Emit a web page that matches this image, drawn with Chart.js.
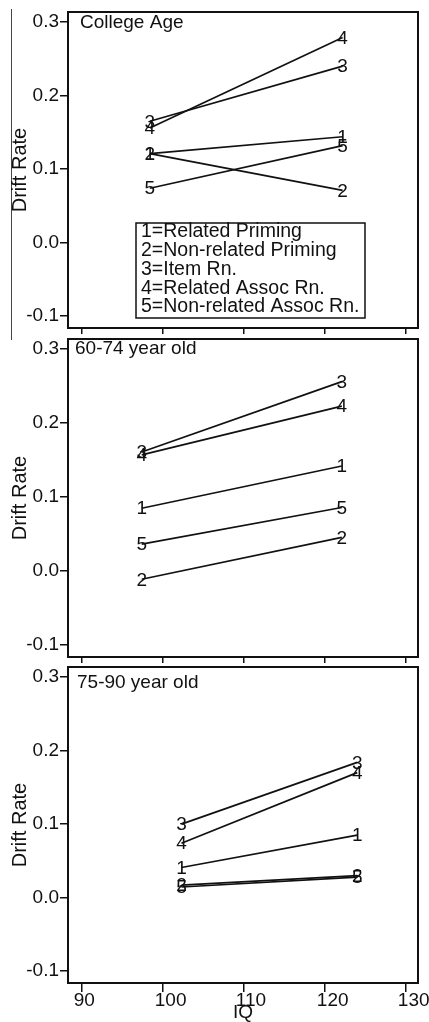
<!DOCTYPE html>
<html>
<head>
<meta charset="utf-8">
<script src="https://cdn.jsdelivr.net/npm/chart.js@4"></script>
<style>
  body { margin: 0; background: #fff; }
  .panel { position: absolute; left: 0; width: 429px; }
  #edge { position: absolute; left: 11px; top: 9px; width: 1px; height: 331px; background: #444; }
</style>
</head>
<body>
<div id="edge"></div>
<div class="panel" style="top:0"><canvas id="p1" width="429" height="336"></canvas></div>
<div class="panel" style="top:336px"><canvas id="p2" width="429" height="328"></canvas></div>
<div class="panel" style="top:664px"><canvas id="p3" width="429" height="358"></canvas></div>
<script>
// legend text for the numbered lines
const seriesNames = ['Related Priming', 'Non-related Priming', 'Item Rn.', 'Related Assoc Rn.', 'Non-related Assoc Rn.'];
const xTicks = [90, 100, 110, 120, 130];
const yTicks = [-0.1, 0.0, 0.1, 0.2, 0.3];
const xRange = [88.3, 131.5];
const yRange = [-0.116, 0.3136];

// IQ at the two points of each panel
const iqCollege = [98.4, 122.2];
const iq6074 = [97.4, 122.1];
const iq7590 = [102.3, 124.0];

// drift rates, one pair per series (1..5)
const college = [[0.121, 0.144], [0.121, 0.071], [0.165, 0.240], [0.156, 0.279], [0.074, 0.132]];
const old6074 = [[0.085, 0.142], [-0.011, 0.0455], [0.161, 0.256], [0.157, 0.223], [0.0365, 0.086]];
const old7590 = [[0.041, 0.085], [0.017, 0.030], [0.100, 0.184], [0.074, 0.170], [0.0145, 0.028]];

const FONT = '"Liberation Sans", Arial, Helvetica, sans-serif';
const INK = '#111';

const panelDecor = {
  id: 'panelDecor',
  afterDatasetsDraw(chart, args, opts) {
    const ctx = chart.ctx;
    const a = chart.chartArea;
    ctx.save();
    // numbers at each point
    ctx.font = '19px ' + FONT;
    ctx.fillStyle = INK;
    ctx.textAlign = 'center';
    ctx.textBaseline = 'middle';
    chart.data.datasets.forEach((ds, i) => {
      chart.getDatasetMeta(i).data.forEach(pt => ctx.fillText(String(i + 1), pt.x, pt.y + 1));
    });
    // frame
    ctx.strokeStyle = INK;
    ctx.lineWidth = 2;
    ctx.strokeRect(a.left, a.top, a.right - a.left, a.bottom - a.top);
    // panel title
    ctx.textAlign = 'left';
    ctx.fillText(opts.title, opts.titleX, a.top + opts.titleDy);
    // legend box
    if (opts.legend) {
      ctx.font = '19.5px ' + FONT;
      ctx.lineWidth = 1.5;
      ctx.strokeRect(136, 223, 229, 95);
      seriesNames.forEach((n, i) => ctx.fillText((i + 1) + '=' + n, 141, 232 + i * 18.75));
    }
    ctx.restore();
  }
};

function makePanel(id, iq, vals, title, titleX, titleDy, padTop, xHeight, showX, legend) {
  const datasets = vals.map((v, i) => ({
    label: String(i + 1),
    data: iq.map((x, j) => ({ x: x, y: v[j] })),
    borderColor: INK,
    borderWidth: 1.7,
    pointRadius: 0,
    fill: false,
    tension: 0
  }));
  new Chart(document.getElementById(id), {
    type: 'line',
    data: { datasets },
    options: {
      responsive: false,
      animation: false,
      layout: { padding: { left: 8, right: 11, top: padTop, bottom: 0 } },
      plugins: {
        legend: { display: false },
        tooltip: { enabled: false },
        panelDecor: { title, titleX, titleDy, legend }
      },
      scales: {
        x: {
          type: 'linear',
          min: xRange[0],
          max: xRange[1],
          afterBuildTicks: s => { s.ticks = xTicks.map(v => ({ value: v })); },
          afterFit: s => { s.height = xHeight; s.paddingLeft = 0; s.paddingRight = 0; },
          border: { display: false },
          grid: { drawOnChartArea: false, drawTicks: true, tickLength: showX ? 9 : 6, color: INK, lineWidth: 1.5 },
          ticks: {
            display: showX,
            autoSkip: false,
            maxRotation: 0,
            align: 'start',
            labelOffset: -8,
            padding: -3,
            color: INK,
            font: { family: FONT, size: 19 }
          },
          title: {
            display: showX,
            text: 'IQ',
            color: INK,
            padding: { top: 0, bottom: 0 },
            font: { family: FONT, size: 19, lineHeight: 1 }
          }
        },
        y: {
          min: yRange[0],
          max: yRange[1],
          afterBuildTicks: s => { s.ticks = yTicks.map(v => ({ value: v })); },
          afterFit: s => { s.width = 60; s.paddingTop = 0; s.paddingBottom = 0; },
          border: { display: false },
          grid: { drawOnChartArea: false, drawTicks: true, tickLength: 8, color: INK, lineWidth: 1.5 },
          ticks: {
            padding: 1,
            color: INK,
            font: { family: FONT, size: 19 },
            callback: v => v.toFixed(1)
          },
          title: {
            display: true,
            text: 'Drift Rate',
            color: INK,
            padding: { top: 0, bottom: 0 },
            font: { family: FONT, size: 20, lineHeight: 1.2 }
          }
        }
      }
    },
    plugins: [panelDecor]
  });
}

makePanel('p1', iqCollege, college, 'College Age', 80, 11, 12, 8, false, true);
makePanel('p2', iq6074, old6074, '60-74 year old', 75, 10, 3, 7, false, false);
makePanel('p3', iq7590, old7590, '75-90 year old', 77, 16, 3, 39, true, false);
</script>
</body>
</html>
